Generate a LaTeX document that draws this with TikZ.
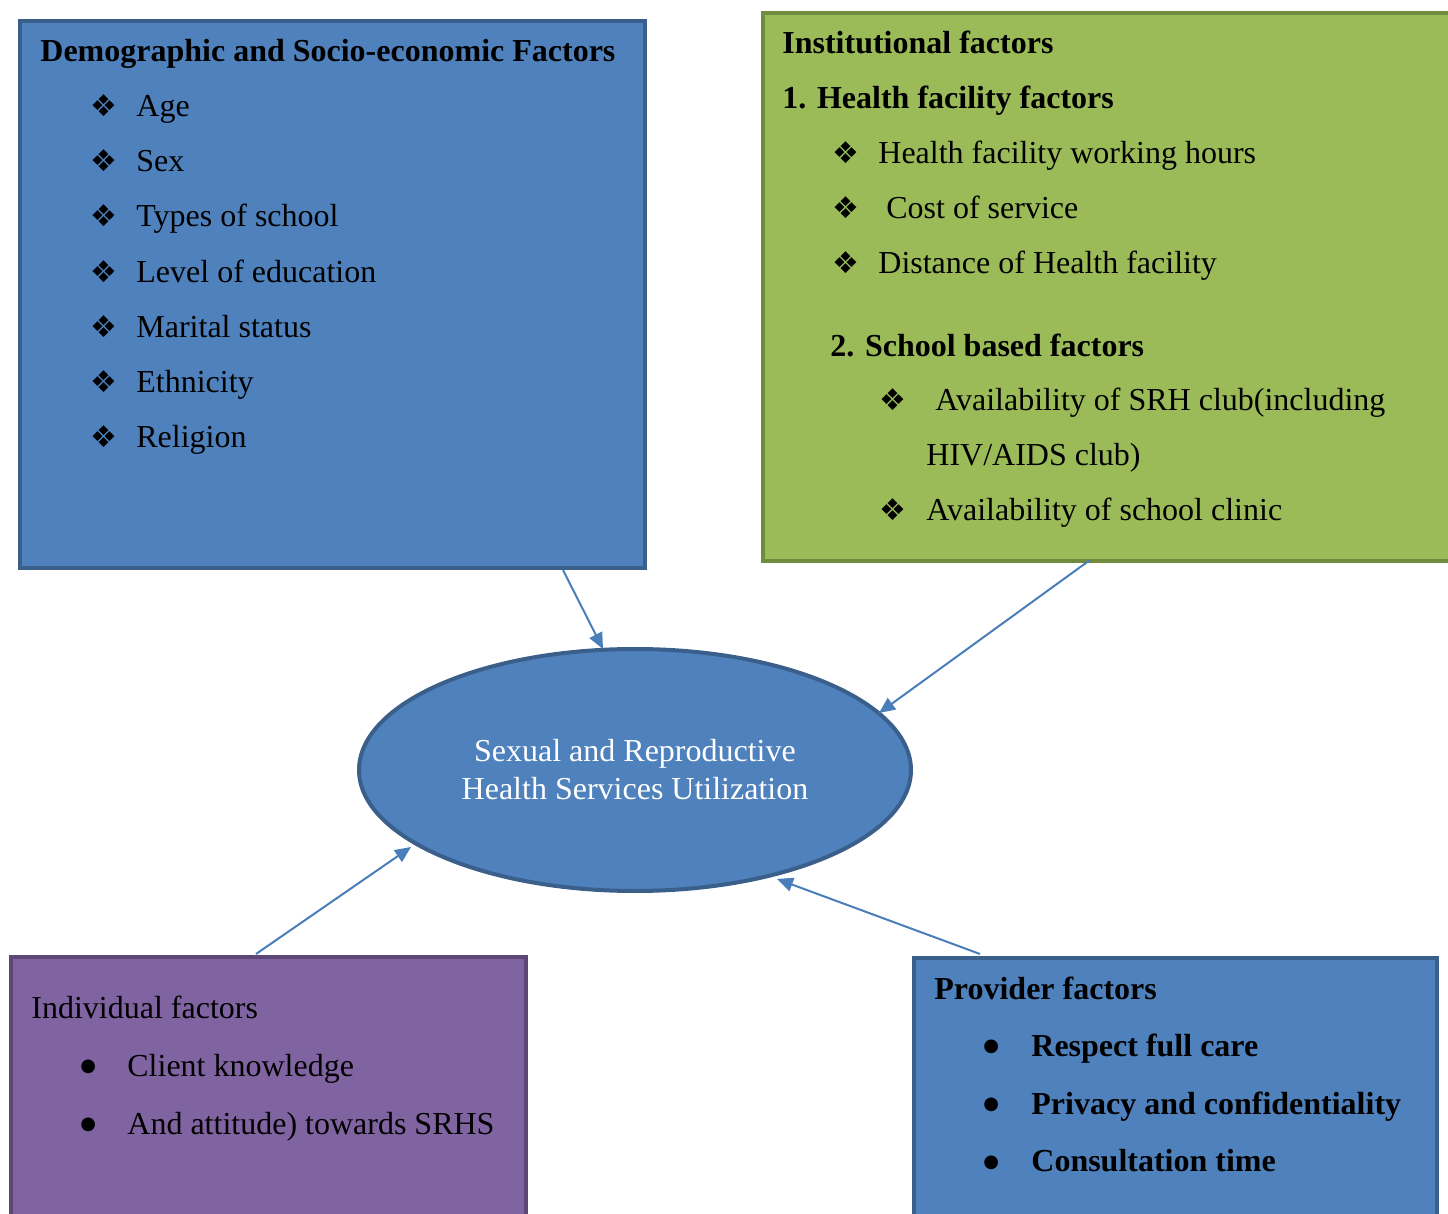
\documentclass[tikz,border=0pt]{standalone}
\usepackage{fontspec}
\setmainfont{Liberation Serif}
\newfontfamily\symf{DejaVu Sans}
\usetikzlibrary{shapes.geometric,arrows.meta}
\definecolor{bluefill}{HTML}{4F81BD}
\definecolor{blueline}{HTML}{3A5F8B}
\definecolor{greenfill}{HTML}{9BBB59}
\definecolor{greenline}{HTML}{718B3F}
\definecolor{purpfill}{HTML}{8064A2}
\definecolor{purpline}{HTML}{5C4776}
\definecolor{arrowc}{HTML}{4A7EBB}
\tikzset{
  boxbase/.style={rectangle, line width=2pt, inner sep=0pt, anchor=north west},
  txt/.style={anchor=base west, inner sep=0pt, font=\fontsize{16pt}{19pt}\selectfont},
  btxt/.style={txt, font=\fontsize{16pt}{19pt}\selectfont\bfseries},
  dia/.style={anchor=base west, inner sep=0pt, font=\symf\fontsize{15pt}{17pt}\selectfont},
  dot/.style={anchor=base west, inner sep=0pt, font=\symf\fontsize{9pt}{11pt}\selectfont},
  conn/.style={draw=arrowc, line width=1pt, -{Triangle[length=8pt,width=7pt]}}
}
\begin{document}
\begin{tikzpicture}[x=0.5pt,y=-0.5pt]
\useasboundingbox (0,0) rectangle (1448,1214);
\begin{scope}
\clip (0,0) rectangle (1448,1214);
% boxes
\node[boxbase, fill=bluefill, draw=blueline, minimum width=312.5pt, minimum height=273.5pt] (demo) at (18,19) {};
\node[boxbase, fill=greenfill, draw=greenline, minimum width=360pt, minimum height=274pt] (inst) at (761,11) {};
\node[boxbase, fill=purpfill, draw=purpline, minimum width=257.5pt, minimum height=140pt] (indiv) at (9,955) {};
\node[boxbase, fill=bluefill, draw=blueline, minimum width=261.5pt, minimum height=140pt] (prov) at (912,956) {};
% ellipse
\node[ellipse, fill=bluefill, draw=blueline, line width=2pt, minimum width=276pt, minimum height=121pt, inner sep=0pt,
      text=white, align=center, font=\fontsize{16pt}{19pt}\selectfont] (srh) at (635,770)
      {Sexual and Reproductive\\Health Services Utilization};
\end{scope}
% box 1 text
\node[btxt] (d0) at (40,62) {Demographic and Socio-economic Factors};
\node[dia] (db1) at (90,117) {❖}; \node[txt] (dt1) at (136,117) {Age};
\node[dia] (db2) at (90,172) {❖}; \node[txt] (dt2) at (136,172) {Sex};
\node[dia] (db3) at (90,227) {❖}; \node[txt] (dt3) at (136,227) {Types of school};
\node[dia] (db4) at (90,283) {❖}; \node[txt] (dt4) at (136,283) {Level of education};
\node[dia] (db5) at (90,338) {❖}; \node[txt] (dt5) at (136,338) {Marital status};
\node[dia] (db6) at (90,393) {❖}; \node[txt] (dt6) at (136,393) {Ethnicity};
\node[dia] (db7) at (90,448) {❖}; \node[txt] (dt7) at (136,448) {Religion};
% box 2 text
\node[btxt] (i0) at (782,54) {Institutional factors};
\node[btxt] (i1) at (782,109) {1. Health facility factors};
\node[dia] (ib1) at (832,164) {❖}; \node[txt] (it1) at (878,164) {Health facility working hours};
\node[dia] (ib2) at (832,219) {❖}; \node[txt] (it2) at (886,219) {Cost of service};
\node[dia] (ib3) at (832,274) {❖}; \node[txt] (it3) at (878,274) {Distance of Health facility};
\node[btxt] (i2) at (830,357) {2. School based factors};
\node[dia] (ib4) at (879,411) {❖}; \node[txt] (it4) at (935,411) {Availability of SRH club(including};
\node[txt] (it5) at (926,466) {HIV/AIDS club)};
\node[dia] (ib6) at (879,521) {❖}; \node[txt] (it6) at (926,521) {Availability of school clinic};
% box 3 text
\node[txt] (p0) at (31,1018) {Individual factors};
\node[dot] (pb1) at (80,1071) {●}; \node[txt] (pt1) at (127,1076) {Client knowledge};
\node[dot] (pb2) at (80,1129) {●}; \node[txt] (pt2) at (127,1134) {And attitude) towards SRHS};
% box 4 text
\node[btxt] (q0) at (934,999) {Provider factors};
\node[dot] (qb1) at (983,1051) {●}; \node[btxt] (qt1) at (1031,1056) {Respect full care};
\node[dot] (qb2) at (983,1109) {●}; \node[btxt] (qt2) at (1031,1114) {Privacy and confidentiality};
\node[dot] (qb3) at (983,1167) {●}; \node[btxt] (qt3) at (1031,1171) {Consultation time};
% connectors
\coordinate (a1s) at (563,570); \coordinate (a1e) at (603,649);
\coordinate (a2s) at (1090,560); \coordinate (a2e) at (879,713);
\coordinate (a3s) at (256,954); \coordinate (a3e) at (411,847);
\coordinate (a4s) at (980,954); \coordinate (a4e) at (777,879);
\draw[conn] (a1s) -- (a1e);
\draw[conn] (a2s) -- (a2e);
\draw[conn] (a3s) -- (a3e);
\draw[conn] (a4s) -- (a4e);
\end{tikzpicture}
\end{document}
